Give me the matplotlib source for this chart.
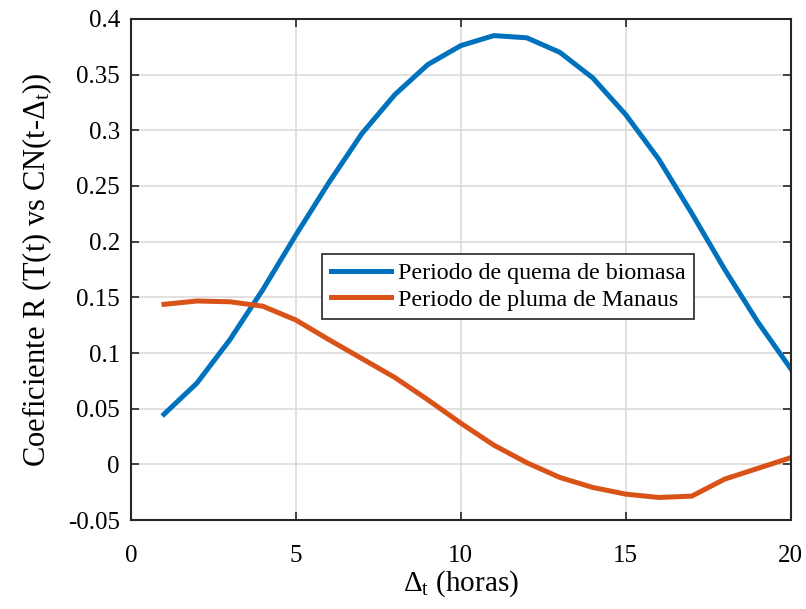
import matplotlib
matplotlib.use('Agg')
import matplotlib.pyplot as plt
import numpy as np
from matplotlib.ticker import FuncFormatter

# desfase en horas
delta_t = [1, 2, 3, 4, 5, 6, 7, 8, 9, 10, 11, 12, 13, 14, 15, 16, 17, 18, 19, 20]
# coeficiente R, periodo de quema de biomasa
r_quema = [0.045, 0.073, 0.112, 0.157, 0.206, 0.253, 0.297, 0.332, 0.359, 0.376,
           0.385, 0.383, 0.370, 0.347, 0.314, 0.274, 0.2255, 0.175, 0.128, 0.086]
# coeficiente R, periodo de pluma de Manaus
r_pluma = [0.1437, 0.1467, 0.146, 0.142, 0.1296, 0.112, 0.095, 0.078, 0.058, 0.037,
           0.0173, 0.0015, -0.0117, -0.0207, -0.0267, -0.0297, -0.0285, -0.0132, -0.0036, 0.006]
labels = ['Periodo de quema de biomasa', 'Periodo de pluma de Manaus']

plt.rcParams['font.family'] = ['Liberation Serif', 'DejaVu Serif']
plt.rcParams['mathtext.fontset'] = 'custom'
plt.rcParams['mathtext.rm'] = 'Liberation Serif'
plt.rcParams['mathtext.it'] = 'Liberation Serif'
plt.rcParams['mathtext.default'] = 'regular'
plt.rcParams['axes.unicode_minus'] = False

fig = plt.figure(figsize=(8.06, 6.09), dpi=100)
ax = fig.add_axes([0.1625, 0.146, 0.8185, 0.823])

ax.plot(delta_t, r_quema, color='#0072BD', lw=3.6, label=labels[0])
ax.plot(delta_t, r_pluma, color='#D95319', lw=3.6, label=labels[1])

ax.set_xlim(0, 20)
ax.set_ylim(-0.05, 0.4)
ax.set_xticks([0, 5, 10, 15, 20])
ax.set_yticks(np.arange(-0.05, 0.401, 0.05))
ax.yaxis.set_major_formatter(FuncFormatter(lambda v, p: '%g' % round(v, 2)))
ax.grid(True, color='#dcdcdc', lw=1.2)
ax.set_axisbelow(True)
ax.tick_params(direction='in', top=True, right=True, length=6, width=1.2,
               color='#262626', labelsize=18)
ax.tick_params(axis='x', pad=18)
ax.tick_params(axis='y', pad=8)
for s in ax.spines.values():
    s.set_color('#262626')
    s.set_linewidth(1.5)

ax.set_xlabel(r'$\Delta_{t}$ (horas)', fontsize=21, labelpad=1)
ax.set_ylabel(r'Coeficiente R (T(t) vs CN(t-$\Delta_{t}$))', fontsize=22, labelpad=10)

leg = ax.legend(loc='upper left', bbox_to_anchor=(0.29, 0.531), borderaxespad=0,
                fontsize=17.3, fancybox=False, framealpha=1, edgecolor='#262626',
                handlelength=2.5, borderpad=0.35, labelspacing=0.2, handletextpad=0.3)
leg.get_frame().set_linewidth(1.2)

fig.savefig('out.png', dpi=100)
